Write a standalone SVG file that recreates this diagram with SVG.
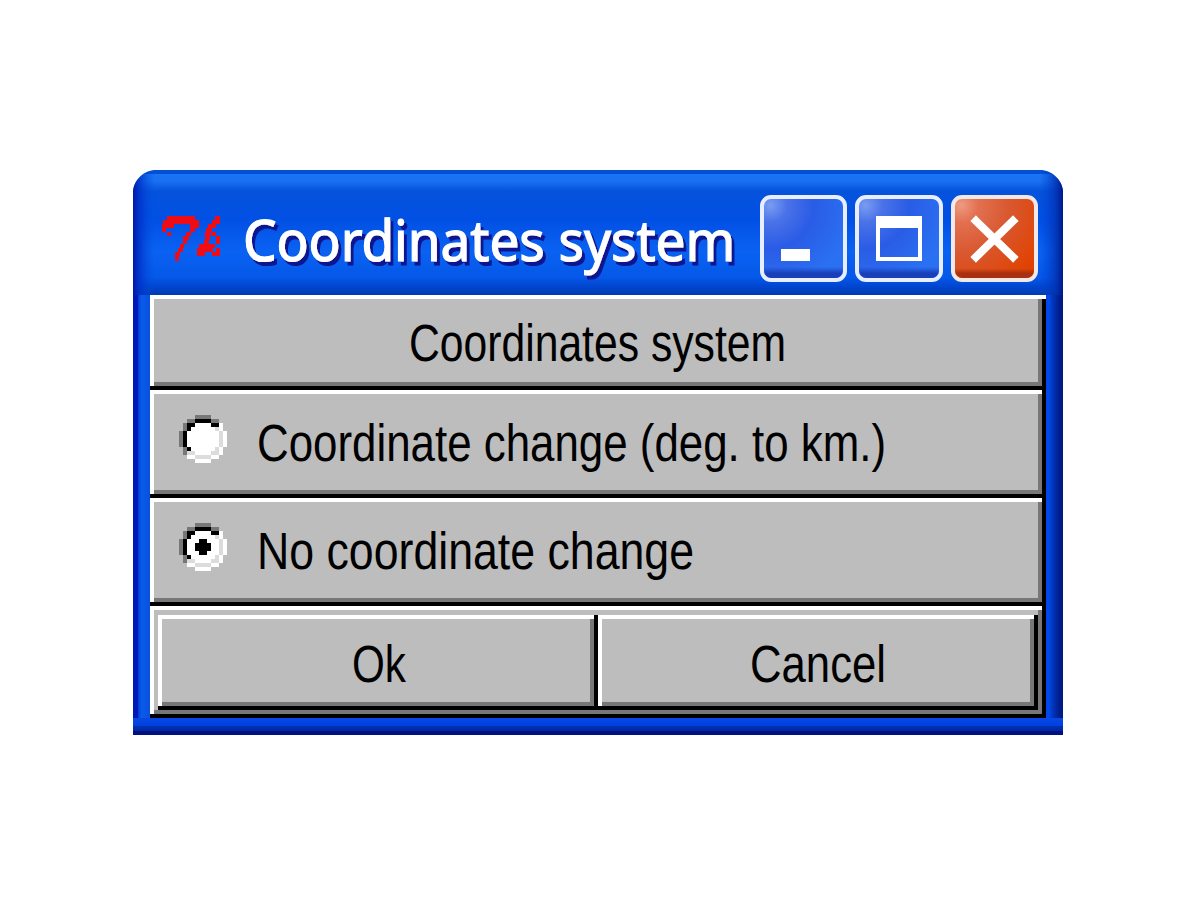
<svg xmlns="http://www.w3.org/2000/svg" width="1200" height="900" viewBox="0 0 1200 900">
<style>
.w{fill:#fff}.k{fill:#000}.d{fill:#777}.g{fill:#bdbdbd}.l{fill:#dcdcdc}
.t{font-family:"Liberation Sans",Arial,sans-serif;font-size:51px;fill:#000}
.tt{font-family:"Noto Sans","DejaVu Sans",sans-serif;font-size:56px;font-weight:400;stroke:#fff;stroke-width:1.2px}
.px{shape-rendering:crispEdges}
</style>
<defs>
<filter id="ts" x="-5%" y="-20%" width="110%" height="150%">
<feDropShadow dx="3" dy="4" stdDeviation="0.6" flood-color="#0a1490"/>
</filter>
<linearGradient id="tb" x1="0" y1="170" x2="0" y2="295" gradientUnits="userSpaceOnUse">
<stop offset="0" stop-color="#0350d4"/><stop offset=".03" stop-color="#0350d4"/><stop offset=".035" stop-color="#1a74f4"/><stop offset=".09" stop-color="#1a70f0"/><stop offset=".17" stop-color="#0552dc"/><stop offset=".4" stop-color="#0150e4"/><stop offset=".65" stop-color="#0a62f2"/><stop offset=".86" stop-color="#0558e8"/><stop offset=".93" stop-color="#0046d0"/><stop offset="1" stop-color="#003cb0"/>
</linearGradient>
<linearGradient id="lf" x1="133" y1="0" x2="150" y2="0" gradientUnits="userSpaceOnUse">
<stop offset="0" stop-color="#0018b8"/><stop offset=".27" stop-color="#0018b8"/><stop offset=".28" stop-color="#0038d8"/><stop offset=".5" stop-color="#0a5ce8"/><stop offset="1" stop-color="#0850e0"/>
</linearGradient>
<linearGradient id="rt" x1="1046" y1="0" x2="1063" y2="0" gradientUnits="userSpaceOnUse">
<stop offset="0" stop-color="#0048ec"/><stop offset=".25" stop-color="#0048ec"/><stop offset=".26" stop-color="#0040d0"/><stop offset=".5" stop-color="#0030b0"/><stop offset=".75" stop-color="#001e90"/><stop offset="1" stop-color="#001880"/>
</linearGradient>
<linearGradient id="bt" x1="0" y1="718" x2="0" y2="735" gradientUnits="userSpaceOnUse">
<stop offset="0" stop-color="#0848e4"/><stop offset=".45" stop-color="#0040e0"/><stop offset=".5" stop-color="#0030b0"/><stop offset=".75" stop-color="#0028a0"/><stop offset=".76" stop-color="#001080"/><stop offset="1" stop-color="#001080"/>
</linearGradient>
<linearGradient id="ls" x1="133" y1="0" x2="155" y2="0" gradientUnits="userSpaceOnUse">
<stop offset="0" stop-color="#0018a8"/><stop offset=".3" stop-color="#0030c8" stop-opacity=".8"/><stop offset="1" stop-color="#0050e0" stop-opacity="0"/>
</linearGradient>
<linearGradient id="rs" x1="1040" y1="0" x2="1063" y2="0" gradientUnits="userSpaceOnUse">
<stop offset="0" stop-color="#0040d0" stop-opacity="0"/><stop offset=".7" stop-color="#0030b0" stop-opacity=".8"/><stop offset="1" stop-color="#001888"/>
</linearGradient>
<radialGradient id="bb" cx=".1" cy=".1" r="1.15">
<stop offset="0" stop-color="#7a9cf2"/><stop offset=".18" stop-color="#4a72e8"/><stop offset=".45" stop-color="#2a5ce6"/><stop offset=".85" stop-color="#2a70f2"/><stop offset="1" stop-color="#2a70f2"/>
</radialGradient>
<linearGradient id="be" x1="0" y1="0" x2="0" y2="1">
<stop offset="0" stop-color="#1a40c0" stop-opacity="0"/><stop offset=".86" stop-color="#1a40c0" stop-opacity="0"/><stop offset=".94" stop-color="#1a40b8"/><stop offset="1" stop-color="#1a40b8"/>
</linearGradient>
<radialGradient id="br" cx=".1" cy=".1" r="1.15">
<stop offset="0" stop-color="#ee9a80"/><stop offset=".18" stop-color="#e27050"/><stop offset=".5" stop-color="#d85830"/><stop offset=".9" stop-color="#e04406"/><stop offset="1" stop-color="#e04000"/>
</radialGradient>
<linearGradient id="re" x1="0" y1="0" x2="0" y2="1">
<stop offset="0" stop-color="#a83010" stop-opacity="0"/><stop offset=".88" stop-color="#a83010" stop-opacity="0"/><stop offset=".94" stop-color="#a83010"/><stop offset="1" stop-color="#a83010"/>
</linearGradient>
<g id="radio" class="px">
<path class="d" d="M4 0h4v1h-4zM2 1h2v1h-2zM8 1h2v1h-2zM1 2h1v2h-1zM0 4h1v4h-1zM1 8h1v2h-1z"/>
<path class="k" d="M4 1h4v1h-4zM2 2h2v1h-2zM8 2h2v1h-2zM2 3h1v1h-1zM1 4h1v4h-1zM2 8h1v1h-1z"/>
<path class="w" d="M4 2h4v1h-4zM10 2h1v2h-1zM3 3h6v1h-6zM2 4h8v4h-8zM11 4h1v4h-1zM3 8h6v1h-6zM10 8h1v2h-1zM4 9h4v1h-4zM2 10h2v1h-2zM8 10h2v1h-2zM4 11h4v1h-4z"/>
<path class="l" d="M9 3h1v1h-1zM10 4h1v4h-1zM9 8h1v1h-1zM2 9h2v1h-2zM8 9h2v1h-2zM4 10h4v1h-4z"/>
</g>
</defs>

<g id="window">
<path fill="url(#tb)" d="M133 191C134 180 144 170 156 170H1040C1052 170 1062 180 1063 191V295H133Z"/>
<path fill="url(#ls)" d="M133 191C134 180 144 170 155 170V295H133Z"/>
<path fill="url(#rs)" d="M1040 170C1052 170 1062 180 1063 191V295H1040Z"/>
<rect class="px" x="133" y="295" width="17" height="423" fill="url(#lf)"/>
<rect class="px" x="1046" y="295" width="17" height="423" fill="url(#rt)"/>
<rect class="px" x="133" y="718" width="930" height="17" fill="url(#bt)"/>
</g>

<g id="title">
<g id="tk-icon" class="px"><path fill="#f00c14" d="M167 216h28v4h-28zM163 220h36v4h-36zM162 224h12v4h-12zM190 224h9v4h-9zM162 228h4v4h-4zM190 228h5v4h-5zM167 232h4v4h-4zM186 232h5v4h-5zM183 236h6v4h-6zM183 240h4v4h-4zM180 244h4v4h-4zM178 248h5v4h-5zM175 252h5v4h-5zM175 256h4v5h-4zM215 216h5v4h-5zM212 220h8v4h-8zM208 224h8v4h-8zM206 228h6v4h-6zM205 232h6v4h-6zM212 232h4v4h-4zM216 236h4v4h-4zM205 236h5v4h-5zM204 240h5v4h-5zM216 240h4v4h-4zM199 244h16v4h-16zM197 248h16v4h-16zM197 252h8v4h-8zM212 252h8v4h-8zM216 248h4v4h-4z"/></g>
<text class="tt" x="243" y="261" textLength="492" lengthAdjust="spacingAndGlyphs" fill="#fff" filter="url(#ts)">Coordinates system</text>
</g>

<g id="btn-minimize">
<rect x="762" y="197" width="83" height="83" rx="9" fill="url(#bb)" stroke="#e8eeff" stroke-width="4"/>
<rect x="764" y="199" width="79" height="79" rx="8" fill="url(#be)"/>
<rect class="w px" x="781" y="249" width="29" height="12"/>
</g>
<g id="btn-maximize">
<rect x="857" y="197" width="84" height="83" rx="9" fill="url(#bb)" stroke="#e8eeff" stroke-width="4"/>
<rect x="859" y="199" width="80" height="79" rx="8" fill="url(#be)"/>
<path class="w px" fill-rule="evenodd" d="M876 216H922V261H876ZM880 228V257H918V228Z"/>
</g>
<g id="btn-close">
<rect x="953" y="197" width="83" height="83" rx="9" fill="url(#br)" stroke="#f2e8e8" stroke-width="4"/>
<rect x="955" y="199" width="79" height="79" rx="8" fill="url(#re)"/>
<path d="M976 221L1013 257M1013 221L976 257" fill="none" stroke="#fff" stroke-width="8" stroke-linecap="square"/>
</g>

<g id="row-header" class="px">
<rect class="w" x="150" y="295" width="892" height="95"/>
<rect class="d" x="154" y="299" width="888" height="87"/>
<rect class="g" x="154" y="299" width="884" height="83"/>
<rect class="k" x="150" y="386" width="896" height="4"/>
<rect class="k" x="1042" y="299" width="4" height="91"/>
<text class="t" x="409" y="361" textLength="377" lengthAdjust="spacingAndGlyphs">Coordinates system</text>
</g>

<g id="row-change" class="px">
<rect class="w" x="150" y="390" width="892" height="108"/>
<rect class="d" x="154" y="394" width="888" height="100"/>
<rect class="g" x="154" y="394" width="884" height="96"/>
<rect class="k" x="150" y="494" width="896" height="4"/>
<rect class="k" x="1042" y="390" width="4" height="108"/>
<use href="#radio" transform="translate(179 415) scale(4)"/>
<text class="t" x="257" y="461" textLength="629" lengthAdjust="spacingAndGlyphs">Coordinate change (deg. to km.)</text>
</g>

<g id="row-none" class="px">
<rect class="w" x="150" y="498" width="892" height="108"/>
<rect class="d" x="154" y="502" width="888" height="100"/>
<rect class="g" x="154" y="502" width="884" height="96"/>
<rect class="k" x="150" y="602" width="896" height="4"/>
<rect class="k" x="1042" y="498" width="4" height="108"/>
<use href="#radio" transform="translate(179 523) scale(4)"/>
<path class="k" d="M195 543h16v8h-16zM199 539h8v16h-8z"/>
<text class="t" x="257" y="569" textLength="437" lengthAdjust="spacingAndGlyphs">No coordinate change</text>
</g>

<g id="row-buttons" class="px">
<rect class="w" x="150" y="606" width="892" height="112"/>
<rect class="g" x="154" y="610" width="884" height="100"/>
<rect class="d" x="1038" y="610" width="4" height="104"/>
<rect class="d" x="154" y="710" width="888" height="4"/>
<rect class="k" x="150" y="714" width="896" height="4"/>
<rect class="k" x="1042" y="606" width="4" height="112"/>
</g>
<g id="btn-ok" class="px">
<rect class="w" x="158" y="615" width="440" height="95"/>
<rect class="d" x="162" y="619" width="432" height="87"/>
<rect class="g" x="162" y="619" width="428" height="83"/>
<rect class="k" x="594" y="615" width="4" height="95"/>
<rect class="k" x="158" y="706" width="440" height="4"/>
<text class="t" x="352" y="682" textLength="54" lengthAdjust="spacingAndGlyphs">Ok</text>
</g>
<g id="btn-cancel" class="px">
<rect class="w" x="598" y="615" width="436" height="95"/>
<rect class="d" x="602" y="619" width="432" height="87"/>
<rect class="g" x="602" y="619" width="428" height="83"/>
<rect class="k" x="1034" y="615" width="4" height="95"/>
<rect class="k" x="598" y="706" width="440" height="4"/>
<text class="t" x="750" y="682" textLength="136" lengthAdjust="spacingAndGlyphs">Cancel</text>
</g>
</svg>
